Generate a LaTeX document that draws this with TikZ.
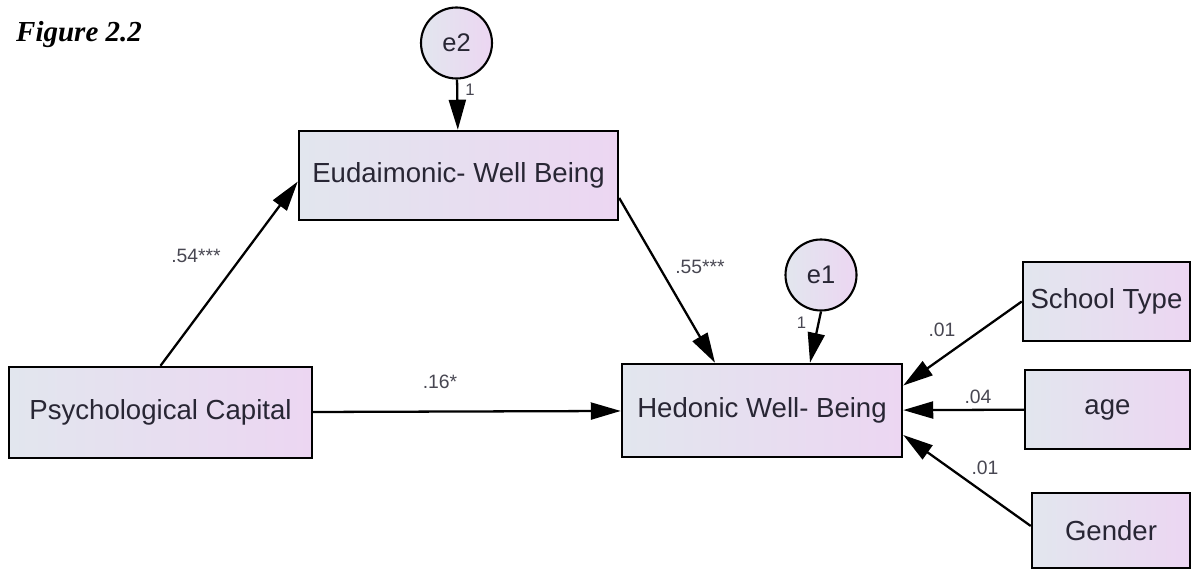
\documentclass[tikz,border=0pt]{standalone}
\usepackage{fontspec}
\usetikzlibrary{arrows.meta}
\newfontfamily\amosfont{Liberation Sans}
\newfontfamily\figfont{Liberation Serif}
\definecolor{boxleft}{RGB}{226,230,238}
\definecolor{boxright}{RGB}{236,214,242}
\definecolor{ink}{RGB}{40,38,52}
\tikzset{
  var/.style={draw, line width=1.4pt, left color=boxleft, right color=boxright,
    text=ink, inner sep=0pt, font=\amosfont\fontsize{15.7}{18}\selectfont},
  err/.style={circle, draw, line width=1.2pt, left color=boxleft, right color=boxright,
    minimum size=1.42cm, inner sep=0pt, text=ink, font=\amosfont\fontsize{14.5}{17}\selectfont},
  reg/.style={line width=1.3pt, -{Triangle[length=0.6cm,width=0.34cm]}},
  coef/.style={text=ink!85, inner sep=1pt, font=\amosfont\fontsize{11}{13}\selectfont},
  fix/.style={coef, font=\amosfont\fontsize{9.5}{11}\selectfont}
}
\begin{document}
\begin{tikzpicture}
\useasboundingbox (0,0) rectangle (23.84,-11.44);
\node[anchor=base west, font=\figfont\bfseries\itshape\fontsize{16.5}{20}\selectfont] (fig) at (0.2,-0.834) {Figure 2.2};

% variables
\node[var, minimum width=6.06cm, minimum height=1.82cm] (psy) at (3.21,-8.25) {Psychological Capital};
\node[var, minimum width=6.38cm, minimum height=1.78cm] (eud) at (9.17,-3.51) {Eudaimonic- Well Being};
\node[var, minimum width=5.6cm, minimum height=1.86cm] (hed) at (15.24,-8.21) {Hedonic Well- Being};
\node[var, minimum width=3.34cm, minimum height=1.58cm] (sch) at (22.13,-6.03) {School Type};
\node[var, minimum width=3.3cm, minimum height=1.58cm] (age) at (22.15,-8.19) {age};
\node[var, minimum width=3.16cm, minimum height=1.5cm] (gen) at (22.22,-10.61) {Gender};

% error terms
\node[err] (e2) at (9.13,-0.86) {e2};
\node[err] (e1) at (16.42,-5.5) {e1};

% paths
\draw[reg] (e2) -- (eud);
\draw[reg] (e1.south) -- ([xshift=.96cm]hed.north);
\draw[reg] (psy.north) -- ([yshift=-.12cm]eud.west);
\draw[reg] ([yshift=-.45cm]eud.east) -- ([xshift=-.94cm]hed.north);
\draw[reg] (psy) -- (hed);
\draw[reg] (sch.west) -- ([yshift=.5cm]hed.east);
\draw[reg] (age) -- (hed);
\draw[reg] ([yshift=.09cm]gen.west) -- ([yshift=-.49cm]hed.east);

% coefficients
\node[fix] (w2) at (9.4,-1.8) {1};
\node[fix] (w1) at (16.03,-6.46) {1};
\node[coef] (b54) at (3.92,-5.12) {.54***};
\node[coef] (b55) at (14.0,-5.34) {.55***};
\node[coef] (b16) at (8.8,-7.64) {.16*};
\node[coef] (b01a) at (18.84,-6.6) {.01};
\node[coef] (b04) at (19.56,-7.94) {.04};
\node[coef] (b01b) at (19.7,-9.36) {.01};
\end{tikzpicture}
\end{document}
